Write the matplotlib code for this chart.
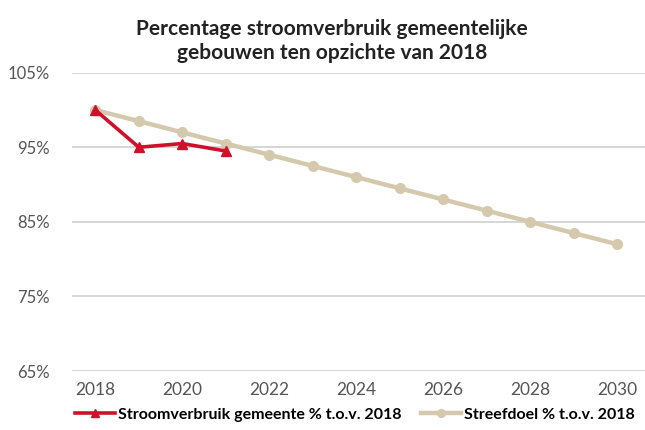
import matplotlib
matplotlib.use('Agg')
import matplotlib.pyplot as plt
from matplotlib.ticker import FuncFormatter

plt.rcParams['font.family'] = ['Lato', 'DejaVu Sans']

jaren = [2018, 2019, 2020, 2021, 2022, 2023, 2024, 2025, 2026, 2027, 2028, 2029, 2030]
verbruik_jaren = [2018, 2019, 2020, 2021]
verbruik = [100, 95, 95.5, 94.5]
streefdoel = [100, 98.5, 97, 95.5, 94, 92.5, 91, 89.5, 88, 86.5, 85, 83.5, 82]

fig = plt.figure(figsize=(6.45, 4.3), dpi=100)
ax = fig.add_axes([0.112, 0.137, 0.888, 0.694])

ax.plot(jaren, streefdoel, color='#d5c9ad', lw=3.2, marker='o', ms=7,
        label='Streefdoel % t.o.v. 2018', zorder=2)
ax.plot(verbruik_jaren, verbruik, color='#d0102a', lw=2.6, marker='^', ms=7,
        label='Stroomverbruik gemeente % t.o.v. 2018', zorder=3)

ax.set_ylim(65, 105)
ax.set_yticks([65, 75, 85, 95, 105])
ax.yaxis.set_major_formatter(FuncFormatter(lambda v, p: '%d%%' % v))
ax.set_xlim(2017.47, 2030.64)
ax.set_xticks([2018, 2020, 2022, 2024, 2026, 2028, 2030])
ax.grid(axis='y', color='#d0d0d0', lw=1.2)
ax.set_axisbelow(True)
for s in ax.spines.values():
    s.set_visible(False)
ax.tick_params(length=0, labelsize=12, labelcolor='#555555')
ax.tick_params(axis='y', pad=16)
ax.tick_params(axis='x', pad=8, labelsize=12.5)

fig.suptitle('Percentage stroomverbruik gemeentelijke\ngebouwen ten opzichte van 2018',
             x=0.515, y=0.955, fontsize=15, fontweight='bold', color='#222222', linespacing=1.25)

h, l = ax.get_legend_handles_labels()
fig.legend(h[::-1], l[::-1], loc='lower center', bbox_to_anchor=(0.55, -0.015), ncol=2,
           frameon=False, handlelength=2.5, handletextpad=0.2, columnspacing=1.2,
           markerscale=0.8, prop={'weight': 'bold', 'size': 11.5})

fig.savefig('out.png', dpi=100)
